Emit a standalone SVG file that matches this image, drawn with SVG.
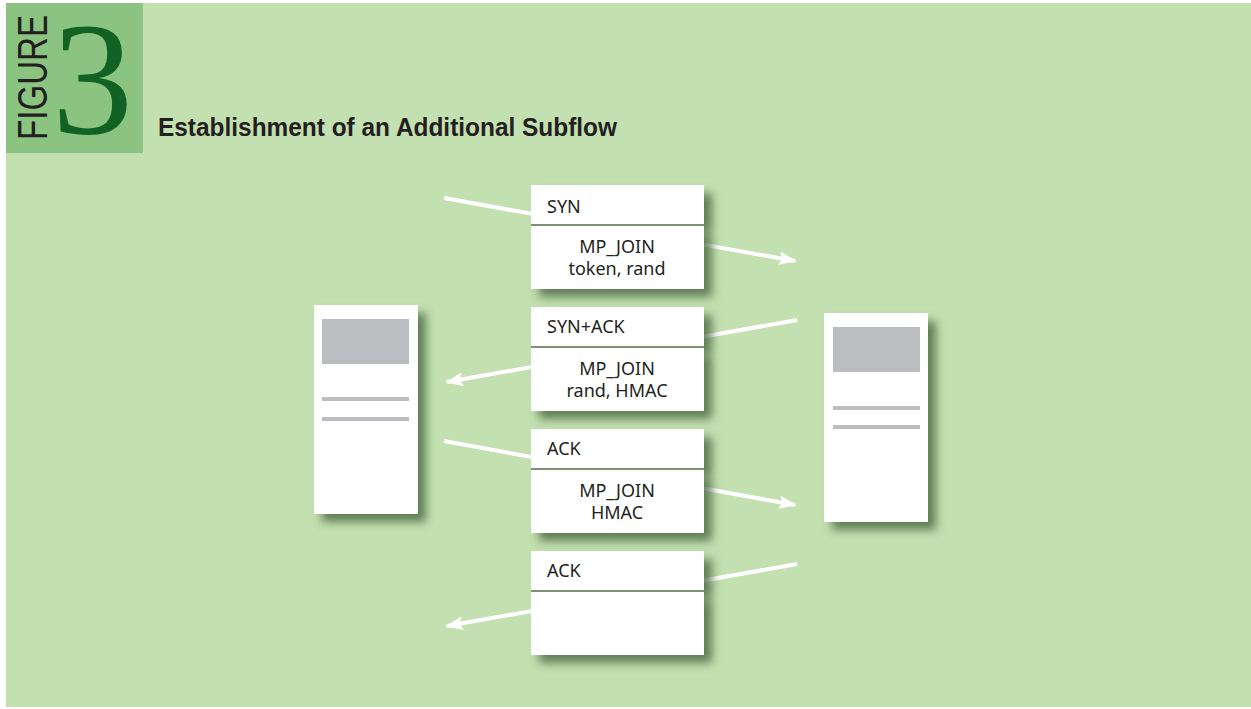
<svg xmlns="http://www.w3.org/2000/svg" width="1251" height="709" viewBox="0 0 1251 709">
<style>
.msg{font-family:"Noto Sans","DejaVu Sans",sans-serif;font-size:18px;fill:#231f20}
.mid{text-anchor:middle}
.box{fill:#ffffff}
.sep{fill:#7d9174}
.bar{fill:#bcbdc1}
.conn{stroke:#ffffff;stroke-width:4;fill:none}
</style>
<defs>
<filter id="sh" x="-20%" y="-20%" width="150%" height="150%">
<feGaussianBlur in="SourceAlpha" stdDeviation="5"/>
<feOffset dx="8" dy="8" result="b"/>
<feFlood flood-color="#3f5e38" flood-opacity="0.75"/>
<feComposite in2="b" operator="in"/>
<feMerge><feMergeNode/><feMergeNode in="SourceGraphic"/></feMerge>
</filter>
<marker id="ah" markerWidth="4.5" markerHeight="3.4" refX="4" refY="1.7" orient="auto" markerUnits="strokeWidth">
<path d="M0,0 L4.5,1.7 L0,3.4 L0.8,1.7 Z" fill="#ffffff"/>
</marker>
</defs>
<rect x="0" y="0" width="1251" height="709" fill="#ffffff"/>
<rect x="6" y="3" width="1245" height="704" fill="#c3e0b0"/>
<g id="header">
<rect x="6" y="3" width="137" height="150" fill="#8bc381"/>
<text transform="translate(47,140) rotate(-90)" font-family="Liberation Sans, sans-serif" font-size="42" fill="#231f20" textLength="125" lengthAdjust="spacingAndGlyphs">FIGURE</text>
<text x="52" y="133" font-family="Liberation Serif, serif" font-size="162" fill="#126224">3</text>
<text x="158" y="136" font-family="Liberation Sans, sans-serif" font-weight="bold" font-size="25" fill="#231f20" textLength="459" lengthAdjust="spacingAndGlyphs">Establishment of an Additional Subflow</text>
</g>
<g id="connectors">
<line class="conn" x1="444" y1="198" x2="795" y2="261" marker-end="url(#ah)"/>
<line class="conn" x1="797" y1="320" x2="447" y2="382" marker-end="url(#ah)"/>
<line class="conn" x1="444" y1="441" x2="795" y2="505" marker-end="url(#ah)"/>
<line class="conn" x1="797" y1="564" x2="447" y2="626" marker-end="url(#ah)"/>
</g>
<g id="host-left" filter="url(#sh)">
<rect class="box" x="314" y="305" width="104" height="209"/>
<rect class="bar" x="322" y="319" width="87" height="45"/>
<rect class="bar" x="322" y="397" width="87" height="4"/>
<rect class="bar" x="322" y="417" width="87" height="4"/>
</g>
<g id="host-right" filter="url(#sh)">
<rect class="box" x="824" y="313" width="104" height="209"/>
<rect class="bar" x="833" y="327" width="87" height="45"/>
<rect class="bar" x="833" y="406" width="87" height="4"/>
<rect class="bar" x="833" y="425" width="87" height="4"/>
</g>
<g id="msg-syn">
<g filter="url(#sh)">
<rect class="box" x="531" y="185" width="173" height="39"/>
<rect class="box" x="531" y="226" width="173" height="63"/>
</g>
<rect class="sep" x="531" y="224" width="173" height="2"/>
<text class="msg" x="547" y="213">SYN</text>
<text class="msg mid" x="617" y="253">MP_JOIN</text>
<text class="msg mid" x="617" y="275">token, rand</text>
</g>
<g id="msg-synack">
<g filter="url(#sh)">
<rect class="box" x="531" y="307" width="173" height="39"/>
<rect class="box" x="531" y="348" width="173" height="63"/>
</g>
<rect class="sep" x="531" y="346" width="173" height="2"/>
<text class="msg" x="547" y="333">SYN+ACK</text>
<text class="msg mid" x="617" y="375">MP_JOIN</text>
<text class="msg mid" x="617" y="397">rand, HMAC</text>
</g>
<g id="msg-ack1">
<g filter="url(#sh)">
<rect class="box" x="531" y="429" width="173" height="39"/>
<rect class="box" x="531" y="470" width="173" height="63"/>
</g>
<rect class="sep" x="531" y="468" width="173" height="2"/>
<text class="msg" x="547" y="455">ACK</text>
<text class="msg mid" x="617" y="497">MP_JOIN</text>
<text class="msg mid" x="617" y="519">HMAC</text>
</g>
<g id="msg-ack2">
<g filter="url(#sh)">
<rect class="box" x="531" y="551" width="173" height="39"/>
<rect class="box" x="531" y="592" width="173" height="63"/>
</g>
<rect class="sep" x="531" y="590" width="173" height="2"/>
<text class="msg" x="547" y="577">ACK</text>
</g>
</svg>
